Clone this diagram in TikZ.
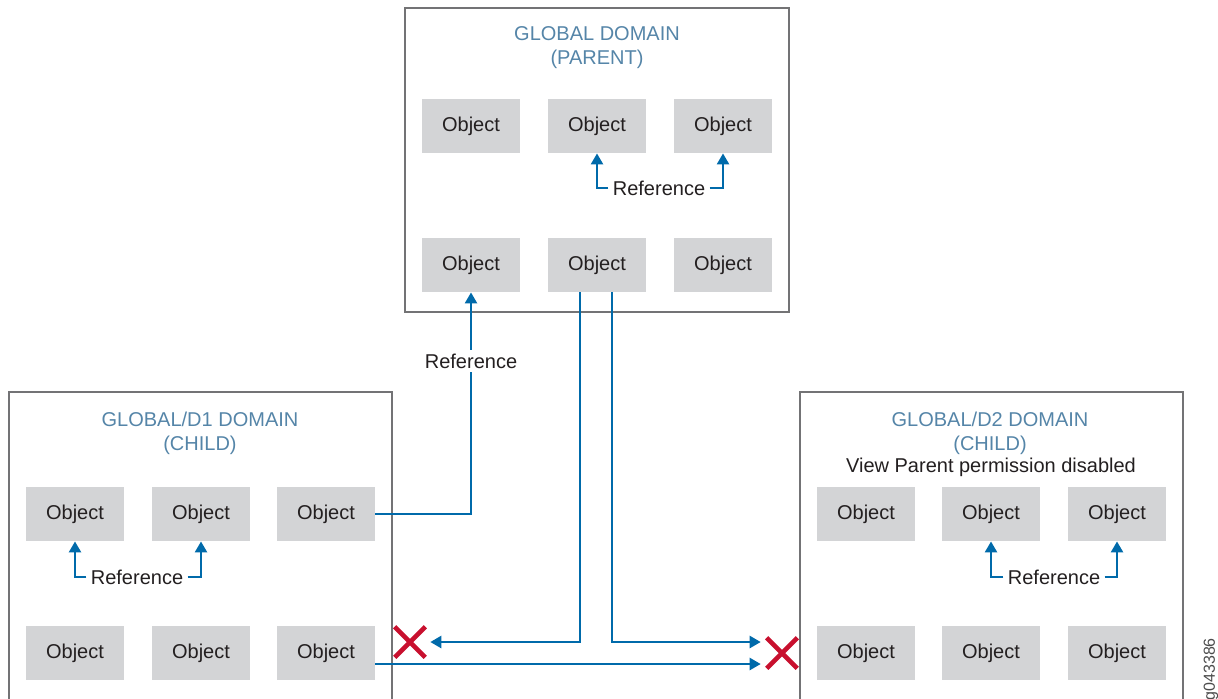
\documentclass[tikz,border=0pt]{standalone}
\usepackage{fontspec}
\setmainfont{Liberation Sans}
\usetikzlibrary{arrows.meta,shapes.misc}
\definecolor{domc}{RGB}{85,133,168}
\definecolor{refc}{RGB}{0,106,170}
\definecolor{denyc}{RGB}{200,16,46}
\definecolor{objc}{RGB}{211,212,214}
\definecolor{framec}{RGB}{115,115,117}
\definecolor{txtc}{RGB}{35,31,32}
\tikzset{
  dombox/.style={rectangle,draw=framec,line width=1.2pt,inner sep=0pt},
  domtitle/.style={font=\fontsize{10}{12}\selectfont,text=domc,align=center},
  obj/.style={rectangle,fill=objc,minimum width=49pt,minimum height=27pt,inner sep=0pt,font=\fontsize{10}{12}\selectfont,text=txtc},
  reflab/.style={font=\fontsize{10}{12}\selectfont,text=txtc,inner sep=2pt},
  refarrow/.style={-{Triangle[length=5.5pt,width=6pt]},line width=1.2pt,refc},
  deny/.style={cross out,draw=denyc,line width=2.3pt,minimum size=13pt,inner sep=0pt},
}
\begin{document}
\begin{tikzpicture}[x=0.5pt,y=-0.5pt]
  \useasboundingbox (0,0) rectangle (1218,698);
  \node[dombox,minimum width=192pt,minimum height=152pt](gd) at (597,160){};
  \node[dombox,minimum width=191.5pt,minimum height=169pt](d1) at (200.5,561){};
  \node[dombox,minimum width=191.5pt,minimum height=169pt](d2) at (991.5,561){};
  \node[domtitle](gdtitle) at (597,48){GLOBAL DOMAIN\\(PARENT)};
  \node[domtitle](d1title) at (200,433){GLOBAL/D1 DOMAIN\\(CHILD)};
  \node[domtitle](d2title) at (990,433){GLOBAL/D2 DOMAIN\\(CHILD)};
  \node[reflab](d2perm) at (991,467){View Parent permission disabled};
  \foreach \c/\x in {1/471,2/597,3/723}
    {\node[obj](gd-1-\c) at (\x,126){Object}; \node[obj](gd-2-\c) at (\x,265){Object};}
  \foreach \c/\x in {1/75,2/201,3/326}
    {\node[obj](d1-1-\c) at (\x,514){Object}; \node[obj](d1-2-\c) at (\x,653){Object};}
  \foreach \c/\x in {1/866,2/991,3/1117}
    {\node[obj](d2-1-\c) at (\x,514){Object}; \node[obj](d2-2-\c) at (\x,653){Object};}
  \node[reflab](gdref) at (659,188){Reference};
  \draw[refarrow] (gdref.west) -| (gd-1-2.south); \draw[refarrow] (gdref.east) -| (gd-1-3.south);
  \node[reflab](d1ref) at (137,577){Reference};
  \draw[refarrow] (d1ref.west) -| (d1-1-1.south); \draw[refarrow] (d1ref.east) -| (d1-1-2.south);
  \node[reflab](d2ref) at (1054,577){Reference};
  \draw[refarrow] (d2ref.west) -| (d2-1-2.south); \draw[refarrow] (d2ref.east) -| (d2-1-3.south);
  \draw[refarrow] (d1-1-3.east) -| (gd-2-1.south);
  \node[reflab,fill=white](upref) at (471,361){Reference};
  \node[deny](xl) at (410,642){};
  \node[deny](xr) at (782,653){};
  \draw[refarrow] ([xshift=-8.5pt]gd-2-2.south) |- ([xshift=2.5pt]xl.east);
  \draw[refarrow] ([xshift=7.5pt]gd-2-2.south) |- ([xshift=-3pt,yshift=5.5pt]xr.west);
  \draw[refarrow] ([yshift=-5.5pt]d1-2-3.east) -- ([xshift=-3pt,yshift=-5.5pt]xr.west);
  \node[font=\fontsize{8}{9}\selectfont,text=black!70,rotate=90,anchor=east](figid) at (1211,631){g043386};
\end{tikzpicture}
\end{document}
